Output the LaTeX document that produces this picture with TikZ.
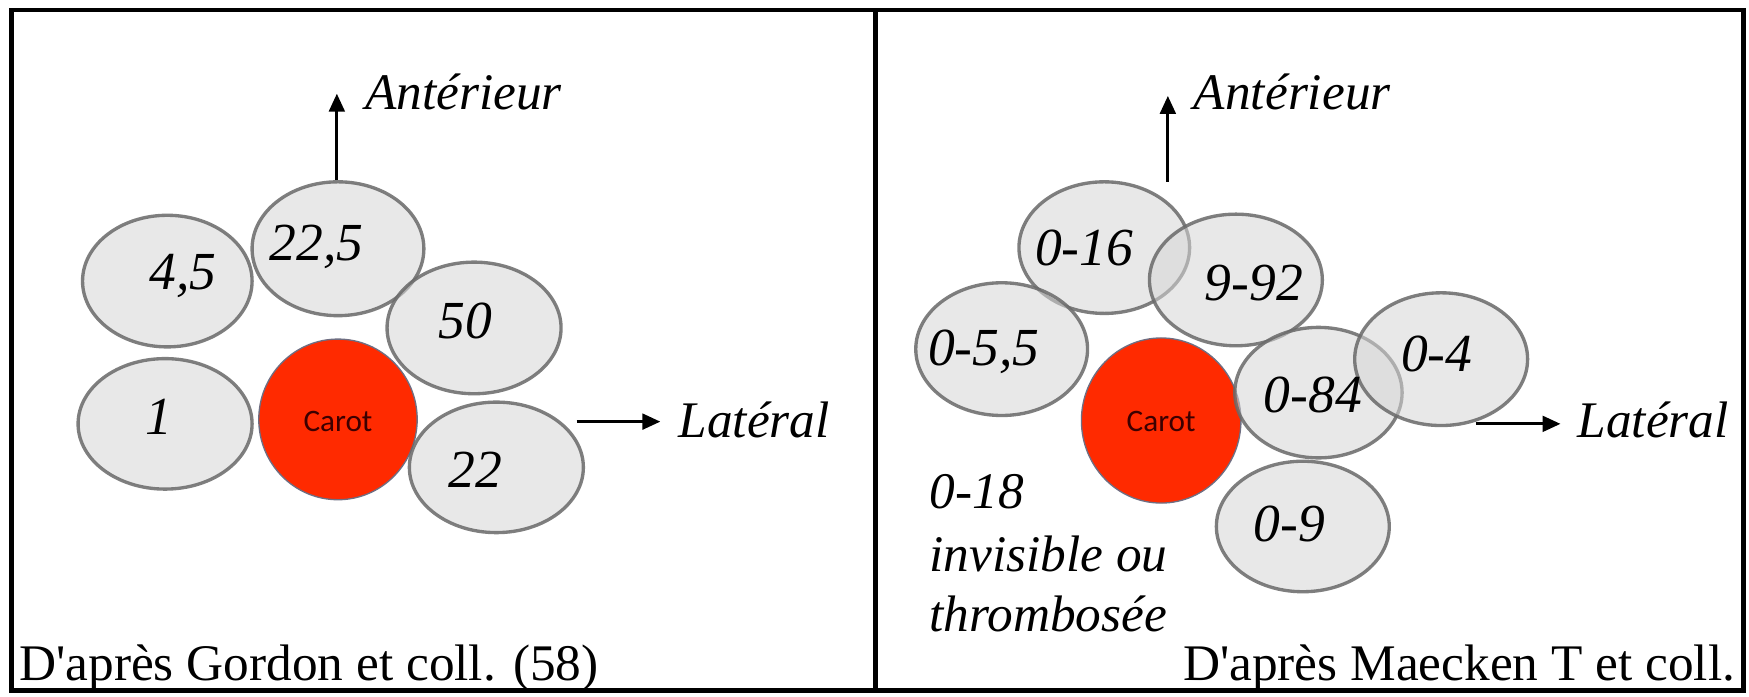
\documentclass[tikz,border=0pt]{standalone}
\usepackage{fontspec}
\setmainfont{Liberation Serif}
\newfontfamily\capfont{Liberation Serif}[Ligatures=TeXOff]
\newfontfamily\carotfont{Carlito}
\usetikzlibrary{shapes.geometric,arrows.meta}
\definecolor{vesfill}{RGB}{214,214,214}
\definecolor{vesline}{RGB}{105,105,105}
\definecolor{carotred}{RGB}{255,42,0}
\definecolor{carottext}{RGB}{60,0,0}
\definecolor{carotline}{RGB}{110,110,130}
\begin{document}
\begin{tikzpicture}[x=0.5pt,y=-0.5pt,
  vessel/.style={ellipse,draw=vesline,line width=1.5pt,fill=vesfill,fill opacity=0.55,draw opacity=0.85,inner sep=0pt},
  carot/.style={ellipse,draw=carotline,line width=0.6pt,fill=carotred,inner sep=0pt},
  numtxt/.style={inner sep=0pt,font=\fontsize{24}{28}\selectfont\itshape},
  cartxt/.style={inner sep=0pt,font=\carotfont\fontsize{14}{16}\selectfont,text=carottext},
  dirtxt/.style={inner sep=0pt,anchor=base west,font=\fontsize{23}{27}\selectfont\itshape},
  captxt/.style={inner sep=0pt,font=\capfont\fontsize{23}{27}\selectfont},
  dirarrow/.style={-{Triangle[length=8pt,width=7pt]},line width=1.3pt}
]
\useasboundingbox (0,0) rectangle (1568,624);
\fill[white] (0,0) rectangle (1568,624);
% frame
\draw[line width=2.2pt] (10,9) rectangle (1563,619);
\draw[line width=2.2pt] (785,9) -- (785,619);

% ---------- left panel ----------
\node[vessel,minimum width=76pt,minimum height=59pt] (l45) at (150,252) {};
\node[vessel,minimum width=77pt,minimum height=60pt] (l225) at (303,223) {};
\node[vessel,minimum width=78pt,minimum height=59pt] (l50) at (425,294) {};
\node[vessel,minimum width=78pt,minimum height=58.5pt] (l1) at (148,380) {};
\node[carot,minimum width=71pt,minimum height=72pt] (lcar) at (303,376) {};
\node[vessel,minimum width=78pt,minimum height=58.5pt] (l22) at (445,419) {};

\node[numtxt] (t45) at (164,247) {4,5};
\node[numtxt] (t225) at (284,221) {22,5};
\node[numtxt] (t50) at (417,288) {50};
\node[numtxt] (t1) at (142,374) {1};
\node[numtxt] (t22) at (426,421) {22};
\node[cartxt] (tlcar) at (303,378) {Carot};

\coordinate (lantS) at (302,161);
\coordinate (lantE) at (302,84);
\draw[dirarrow] (lantS) -- (lantE);
\node[dirtxt] (lant) at (327,98) {Antérieur};
\coordinate (llatS) at (517,378);
\coordinate (llatE) at (592,378);
\draw[dirarrow] (llatS) -- (llatE);
\node[dirtxt] (llat) at (608,392) {Latéral};

\node[captxt,anchor=base west] (lcap) at (17,610) {D'après Gordon et coll. (58)};

% ---------- right panel ----------
\node[vessel,minimum width=76.5pt,minimum height=59pt] (r016) at (990,222) {};
\node[vessel,minimum width=77.5pt,minimum height=59pt] (r992) at (1108,251) {};
\node[vessel,minimum width=77pt,minimum height=59.5pt] (r055) at (898,313) {};
\node[carot,minimum width=71.5pt,minimum height=74pt] (rcar) at (1041,377) {};
\node[vessel,minimum width=75pt,minimum height=58.5pt] (r084) at (1182,352) {};
\node[vessel,minimum width=77.5pt,minimum height=59.5pt] (r04) at (1292,322) {};
\node[vessel,minimum width=77.5pt,minimum height=58.5pt] (r09) at (1168,472) {};

\node[numtxt] (t016) at (972,222) {0-16};
\node[numtxt] (t992) at (1124,254) {9-92};
\node[numtxt] (t055) at (882,315) {0-5,5};
\node[numtxt] (t084) at (1177,354) {0-84};
\node[numtxt] (t04) at (1288,317) {0-4};
\node[numtxt] (t09) at (1156,470) {0-9};
\node[cartxt] (trcar) at (1041,378) {Carot};

\coordinate (rantS) at (1047,163);
\coordinate (rantE) at (1047,86);
\draw[dirarrow] (rantS) -- (rantE);
\node[dirtxt] (rant) at (1070,98) {Antérieur};
\coordinate (rlatS) at (1323,380);
\coordinate (rlatE) at (1399,380);
\draw[dirarrow] (rlatS) -- (rlatE);
\node[dirtxt] (rlat) at (1414,392) {Latéral};

\node[dirtxt] (r018) at (833,456) {0-18};
\node[dirtxt] (rinv) at (833,512) {invisible ou};
\node[dirtxt] (rthr) at (833,566) {thrombosée};

\node[captxt,anchor=base east] (rcap) at (1556,610) {D'après Maecken T et coll.};
\end{tikzpicture}
\end{document}
